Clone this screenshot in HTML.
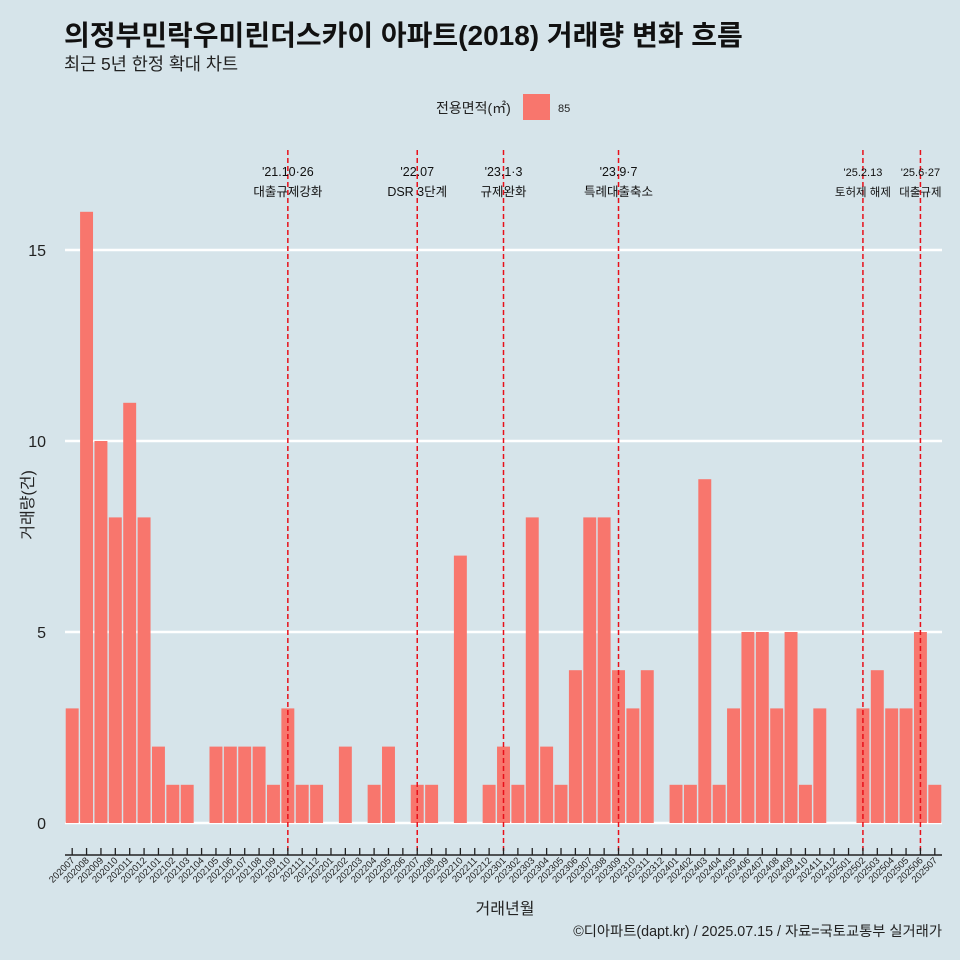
<!DOCTYPE html>
<html><head><meta charset="utf-8"><style>
body{margin:0;background:#d6e4ea;overflow:hidden;}
svg{display:block;}
svg text{font-family:"Liberation Sans","Noto Sans CJK KR",sans-serif;}
</style></head><body>
<svg id="c" width="960" height="960" xmlns="http://www.w3.org/2000/svg">
<rect width="960" height="960" fill="#d6e4ea"/>
<text x="64" y="45" font-size="28" font-weight="bold" fill="#111">의정부민락우미린더스카이 아파트(2018) 거래량 변화 흐름</text>
<text x="64" y="70" font-size="17.5" fill="#222">최근 5년 한정 확대 차트</text>
<text x="436" y="113" font-size="14" fill="#222">전용면적(㎡)</text>
<rect x="523" y="94" width="27" height="26" fill="#f8766d"/>
<text x="558" y="112" font-size="11" fill="#222">85</text>
<g id="grid"></g><g id="bars"></g><g id="vlines"></g><g id="xaxis"></g>
<text transform="translate(33,505) rotate(-90)" text-anchor="middle" font-size="16" fill="#222">거래량(건)</text>
<text x="505" y="914" text-anchor="middle" font-size="16" fill="#222">거래년월</text>
<text x="942" y="936" text-anchor="end" font-size="14.3" fill="#222">©디아파트(dapt.kr) / 2025.07.15 / 자료=국토교통부 실거래가</text>
</svg>
<script>
const months=[];for(let y=2020;y<=2025;y++)for(let m=1;m<=12;m++){const k=y*100+m;if(k>=202007&&k<=202507)months.push(String(k));}
const values=[3,16,10,8,11,8,2,1,1,0,2,2,2,2,1,3,1,1,0,2,0,1,2,0,1,1,0,7,0,1,2,1,8,2,1,4,8,8,4,3,4,0,1,1,9,1,3,5,5,3,5,1,3,0,0,3,4,3,3,5,1];
const yTicks=[0,5,10,15];
const eventMonths=["202110","202207","202301","202309","202502","202506"];
const eventDates=["'21.10·26","'22.07","'23.1·3","'23.9·7","'25.2.13","'25.6·27"];
const eventLabels=["대출규제강화","DSR 3단계","규제완화","특례대출축소","토허제 해제","대출규제"];
const NS="http://www.w3.org/2000/svg";
const L=65,R=942,step=(R-L)/months.length;
const y=v=>823-v*38.2;
const x=i=>L+step*(i+0.5);
function mk(p,t,a){const e=document.createElementNS(NS,t);for(const k in a)e.setAttribute(k,a[k]);document.getElementById(p).appendChild(e);return e;}
yTicks.forEach(t=>{
 const l=mk('grid','line',{x1:L,x2:R,y1:y(t),y2:y(t),stroke:'#fff','stroke-width':2.5});
 
 
 const tx=mk('grid','text',{x:46,y:y(t)+6,'text-anchor':'end','font-size':16,fill:'#222'});
 tx.textContent=t;
 
 
});
values.forEach((v,i)=>{
 const r=mk('bars','rect',{x:x(i)-step*0.45,width:step*0.9,y:y(v),height:v*38.2,fill:'#f8766d'});
 
 
});
mk('xaxis','line',{x1:L,x2:R,y1:855,y2:855,stroke:'#222','stroke-width':1.5});
months.forEach((m,i)=>{
 mk('xaxis','line',{x1:x(i),x2:x(i),y1:848,y2:855,stroke:'#222','stroke-width':1.3});
 const t=mk('xaxis','text',{transform:`translate(${x(i)+3},861) rotate(-45)`,'text-anchor':'end','font-size':9.5,fill:'#222'});
 t.textContent=m;
 
 
});
eventMonths.forEach((m,j)=>{
 const i=months.indexOf(m);const small=j>=4;
 const l=mk('vlines','line',{x1:x(i),x2:x(i),y1:150,y2:855,stroke:'#e8101a','stroke-width':1.5,'stroke-dasharray':'5,3'});
 
 
 const d=mk('vlines','text',{x:x(i),y:176,'text-anchor':'middle','font-size':small?11:12.5,fill:'#111'});
 d.textContent=eventDates[j];
 
 
 const e=mk('vlines','text',{x:x(i),y:196,'text-anchor':'middle','font-size':small?11.5:12.5,fill:'#111'});
 e.textContent=eventLabels[j];
 
 
});
</script>
</body></html>
